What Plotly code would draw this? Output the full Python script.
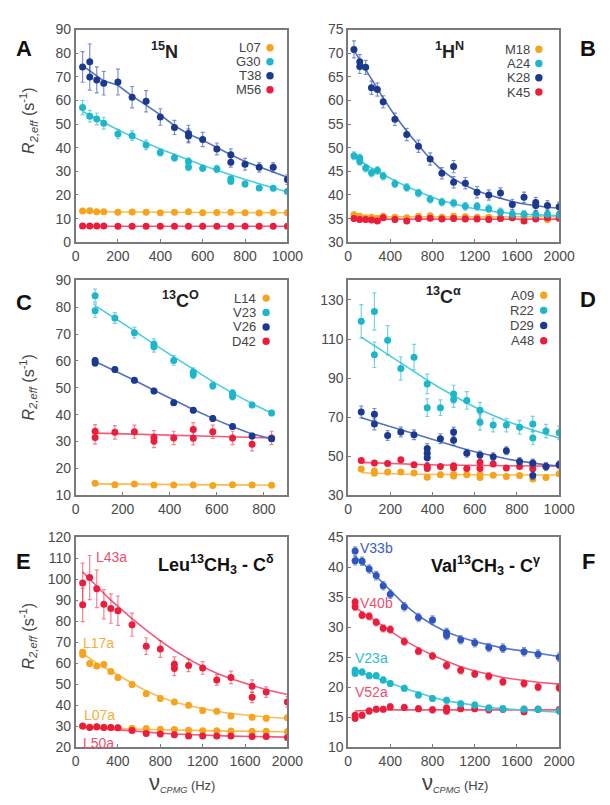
import plotly.graph_objects as go

W, H = 610, 805

ORANGE = "#F6A31E"
CYAN = "#1DB6CB"
BLUE = "#1B3A8F"
BLUE2 = "#2F56C0"
RED = "#EC1C3C"
LINE = {ORANGE: "#F8BC55", CYAN: "#4CCCDD", BLUE: "#5470BE", BLUE2: "#5878CC", RED: "#F25A78"}
ERR = {ORANGE: "rgba(246,163,30,0.6)", CYAN: "rgba(29,182,203,0.6)", BLUE: "rgba(40,70,170,0.6)",
       BLUE2: "rgba(47,86,192,0.6)", RED: "rgba(236,28,60,0.55)"}

# ---------------- Panel A (15N) ----------------
A_nu = [33, 67, 100, 133, 200, 267, 333, 400, 467, 533, 600, 667, 733, 800, 867, 933, 1000]
A_T38_x = [33, 67, 67, 100, 133, 200, 267, 333, 400, 467, 533, 533, 600, 667, 733, 733, 800, 867, 933, 1000]
A_T38_y = [74.2, 76.4, 69.9, 68.7, 67.3, 67.8, 61.4, 59.7, 53.0, 48.6, 46.0, 45.0, 43.5, 39.5, 37.0, 33.8, 33.0, 31.7, 31.7, 26.5]
A_T38_e = [6.5, 7.5, 5.5, 5.5, 5.0, 5.5, 4.5, 4.5, 3.5, 3.0, 3.5, 3.0, 3.0, 2.5, 2.5, 2.0, 2.5, 2.0, 2.0, 2.0]
A_T38_fit = [74.7, 72.5, 70.3, 68.3, 66.4, 61.8, 58.0, 53.9, 49.3, 45.8, 43.2, 40.0, 37.0, 34.2, 32.0, 30.0, 27.5]
A_G30_x = [33, 67, 100, 133, 200, 267, 333, 400, 467, 533, 533, 600, 667, 733, 733, 800, 867, 933, 1000]
A_G30_y = [57.0, 53.3, 52.2, 50.4, 45.8, 45.1, 41.2, 38.0, 35.8, 34.2, 31.8, 31.3, 31.0, 26.8, 25.8, 24.6, 23.0, 22.8, 21.5]
A_G30_e = [3.0, 2.5, 2.5, 2.5, 2.0, 2.0, 2.0, 1.5, 1.5, 1.5, 1.5, 1.2, 1.5, 1.2, 1.2, 1.2, 1.0, 1.0, 1.0]
A_G30_fit = [55.3, 53.7, 52.2, 50.6, 47.6, 44.7, 42.0, 39.5, 37.1, 34.8, 32.6, 30.5, 28.5, 26.6, 24.8, 23.0, 21.3]
A_L07_y = [13.2, 13.3, 12.9, 12.9, 12.7, 12.8, 12.7, 12.5, 12.7, 12.9, 12.5, 12.6, 12.7, 12.5, 12.4, 12.6, 12.5]
A_L07_fit = [13.0, 12.9, 12.9, 12.8, 12.8, 12.8, 12.7, 12.7, 12.7, 12.6, 12.6, 12.6, 12.6, 12.6, 12.5, 12.5, 12.5]
A_M56_y = [6.9, 6.9, 6.9, 6.9, 6.8, 6.8, 6.8, 6.8, 6.8, 6.8, 6.8, 6.8, 6.8, 6.8, 6.8, 6.8, 6.8]
A_M56_fit = [6.8] * 17

# ---------------- Panel B (1HN) ----------------
B_nu = [56, 111, 167, 222, 278, 333, 444, 556, 667, 778, 889, 1000, 1111, 1222, 1333, 1444, 1556, 1667, 1778, 1889, 2000]
B_K28_x = [56, 111, 111, 167, 222, 278, 333, 444, 556, 667, 778, 889, 1000, 1000, 1111, 1222, 1333, 1444, 1556, 1667, 1778, 1778, 1889, 2000]
B_K28_y = [70.8, 68.2, 67.2, 67.0, 62.7, 62.3, 59.7, 56.0, 52.8, 50.3, 47.6, 44.6, 46.0, 42.7, 42.5, 40.6, 40.0, 40.4, 38.0, 39.5, 38.4, 37.8, 37.8, 37.5]
B_K28_e = [1.8, 1.5, 1.5, 1.5, 1.4, 1.4, 1.3, 1.3, 1.3, 1.3, 1.3, 1.2, 1.3, 1.2, 1.2, 1.2, 1.1, 1.1, 1.1, 1.1, 1.1, 1.1, 1.0, 1.0]
B_K28_fit = [70.6, 68.6, 66.6, 64.6, 62.6, 60.5, 56.8, 53.5, 50.5, 47.6, 45.2, 43.4, 42.0, 40.9, 40.0, 39.3, 38.6, 38.1, 37.7, 37.4, 37.2]
B_A24_x = [56, 111, 111, 167, 222, 278, 333, 444, 556, 667, 778, 889, 1000, 1111, 1222, 1333, 1444, 1556, 1667, 1778, 1889, 2000]
B_A24_y = [48.3, 47.8, 47.1, 45.7, 44.7, 45.2, 44.0, 42.4, 41.6, 40.4, 39.1, 38.5, 38.3, 37.6, 37.6, 37.1, 36.4, 36.0, 35.9, 35.9, 36.0, 35.8]
B_A24_fit = [48.0, 47.2, 46.4, 45.7, 45.0, 44.3, 43.0, 41.8, 40.7, 39.7, 38.8, 38.1, 37.5, 37.0, 36.6, 36.3, 36.1, 35.9, 35.8, 35.7, 35.6]
B_M18_y = [35.8, 35.5, 35.2, 35.3, 35.1, 35.5, 35.3, 35.2, 35.5, 35.6, 35.3, 35.5, 35.4, 35.3, 35.3, 35.2, 35.4, 35.3, 35.4, 34.8, 35.3]
B_M18_fit = [35.4] * 21
B_K45_y = [35.0, 34.8, 34.8, 34.7, 34.5, 35.2, 34.8, 34.5, 35.0, 35.1, 34.9, 35.0, 34.9, 34.9, 34.8, 35.0, 35.2, 34.5, 34.9, 35.2, 35.1]
B_K45_fit = [34.9] * 21

# ---------------- Panel C (13CO) ----------------
C_nu = [83, 167, 250, 333, 417, 500, 583, 667, 750, 833]
C_V23_x = [83, 83, 167, 250, 333, 333, 417, 500, 500, 583, 667, 667, 750, 833]
C_V23_y = [84.3, 78.7, 76.0, 70.5, 66.2, 65.3, 60.2, 55.9, 54.9, 50.8, 48.0, 46.8, 43.6, 40.6]
C_V23_e = [2.5, 2.5, 2.0, 2.0, 2.0, 2.0, 1.8, 1.5, 1.5, 1.3, 1.3, 1.3, 1.0, 1.0]
C_V23_fit = [80.6, 76.0, 71.2, 66.3, 61.5, 56.8, 52.3, 48.0, 44.1, 40.6]
C_V26_x = [83, 83, 167, 250, 333, 417, 500, 583, 667, 750, 833]
C_V26_y = [60.2, 59.2, 56.8, 52.8, 48.8, 44.4, 41.6, 38.6, 35.6, 32.0, 31.0]
C_V26_fit = [59.8, 56.4, 52.8, 49.1, 45.4, 41.9, 38.6, 35.5, 32.8, 31.0]
C_D42_x = [83, 83, 167, 250, 333, 333, 417, 500, 500, 583, 667, 750, 833]
C_D42_y = [33.8, 31.5, 33.4, 33.6, 31.5, 30.2, 31.3, 34.5, 31.2, 33.6, 31.3, 29.0, 31.3]
C_D42_fit = [33.1, 32.9, 32.7, 32.5, 32.3, 32.1, 31.9, 31.7, 31.5, 31.3]
C_L14_y = [14.4, 13.9, 14.1, 13.8, 13.8, 13.8, 13.6, 13.9, 13.8, 13.7]
C_L14_fit = [14.2, 14.1, 14.0, 13.9, 13.9, 13.8, 13.8, 13.8, 13.7, 13.7]

# ---------------- Panel D (13C alpha) ----------------
D_nu = [62.5, 125, 187.5, 250, 312.5, 375, 437.5, 500, 562.5, 625, 687.5, 750, 812.5, 875, 937.5, 1000]
D_R22_x = [62.5, 125, 125, 187.5, 250, 312.5, 375, 375, 437.5, 500, 500, 562.5, 625, 625, 687.5, 750, 812.5, 875, 875, 937.5, 1000]
D_R22_y = [119.1, 124.1, 101.9, 109.4, 94.9, 100.7, 87.0, 74.8, 74.8, 81.8, 79.0, 78.5, 73.5, 67.3, 65.9, 65.9, 64.8, 66.4, 59.3, 62.8, 61.9]
D_R22_e = [8.5, 9.5, 6.5, 7.5, 6.0, 6.5, 5.0, 4.5, 4.0, 4.5, 4.0, 4.5, 4.0, 4.0, 3.5, 3.5, 3.5, 4.0, 3.5, 3.5, 3.5]
D_R22_fit = [111.0, 106.5, 102.0, 97.6, 93.2, 88.9, 84.8, 80.8, 77.2, 73.8, 70.7, 68.0, 65.5, 63.3, 61.2, 59.3]
D_D29_x = [62.5, 125, 125, 187.5, 250, 312.5, 375, 375, 375, 437.5, 500, 500, 562.5, 625, 687.5, 750, 812.5, 875, 875, 937.5, 1000]
D_D29_y = [72.6, 71.4, 66.4, 60.6, 62.3, 60.9, 53.9, 51.4, 49.2, 58.9, 62.3, 58.1, 51.4, 50.6, 49.7, 52.7, 47.2, 46.4, 40.0, 44.7, 45.6]
D_D29_e = [3.0, 3.0, 3.0, 2.5, 2.5, 2.5, 2.5, 2.5, 2.5, 2.5, 2.5, 2.5, 2.0, 2.0, 2.0, 2.0, 2.0, 2.0, 2.0, 2.0, 2.0]
D_D29_fit = [69.6, 67.6, 65.5, 63.4, 61.3, 59.2, 57.2, 55.2, 53.3, 51.6, 50.0, 48.6, 47.4, 46.3, 45.5, 44.9]
D_A48_x = [62.5, 125, 187.5, 250, 312.5, 375, 375, 437.5, 500, 500, 562.5, 625, 625, 687.5, 750, 812.5, 875, 875, 937.5, 1000]
D_A48_y = [47.7, 46.4, 46.2, 48.1, 45.6, 44.8, 43.6, 44.7, 45.0, 44.0, 43.6, 46.9, 43.6, 46.0, 43.9, 44.7, 46.0, 43.5, 44.7, 45.6]
D_A48_fit = [46.8, 46.5, 46.2, 46.0, 45.8, 45.6, 45.4, 45.3, 45.2, 45.1, 45.0, 45.0, 44.9, 44.9, 44.8, 44.8]
D_A09_x = [62.5, 125, 125, 187.5, 250, 312.5, 375, 437.5, 500, 500, 562.5, 625, 625, 687.5, 750, 812.5, 875, 937.5, 1000]
D_A09_y = [43.4, 42.4, 41.2, 41.8, 41.8, 41.3, 39.2, 40.5, 40.6, 39.8, 40.5, 40.5, 39.0, 40.2, 39.5, 40.0, 38.3, 39.0, 41.0]
D_A09_fit = [41.5, 41.2, 41.0, 40.8, 40.7, 40.6, 40.5, 40.5, 40.4, 40.4, 40.4, 40.3, 40.3, 40.3, 40.3, 40.3]

# ---------------- Panel E (Leu methyl) ----------------
E_nu = [67, 133, 200, 267, 333, 400, 533, 667, 800, 933, 1067, 1200, 1333, 1467, 1667, 1800, 2000]
E_L43a_x = [67, 67, 133, 200, 267, 333, 400, 533, 667, 800, 933, 933, 1067, 1200, 1333, 1467, 1667, 1667, 1800, 2000]
E_L43a_y = [98.2, 87.8, 100.8, 95.5, 88.1, 86.0, 85.0, 78.3, 68.1, 66.7, 59.5, 57.5, 58.9, 57.7, 52.0, 53.2, 49.0, 43.7, 46.2, 41.5]
E_L43a_e = [9.5, 8.0, 10.5, 9.0, 7.0, 7.0, 7.0, 5.5, 4.0, 4.0, 3.5, 3.5, 3.0, 3.0, 2.5, 3.0, 3.0, 2.5, 2.5, 2.5]
E_L43a_fit = [103.5, 100.0, 96.5, 93.2, 90.0, 87.0, 81.2, 75.7, 70.6, 66.0, 61.9, 58.3, 55.2, 52.5, 49.2, 47.3, 45.0]
E_L17a_x = [67, 67, 133, 200, 267, 333, 400, 533, 667, 800, 933, 1067, 1200, 1333, 1467, 1667, 1800, 2000]
E_L17a_y = [65.2, 64.1, 59.8, 58.6, 59.4, 56.0, 53.2, 49.8, 45.4, 43.1, 41.5, 39.9, 37.4, 37.1, 34.8, 34.2, 33.7, 34.0]
E_L17a_fit = [64.6, 62.2, 60.0, 58.0, 56.1, 54.3, 50.6, 46.7, 43.8, 41.5, 39.7, 38.2, 37.0, 36.0, 34.9, 34.3, 33.6]
E_L07a_y = [29.9, 29.5, 29.6, 29.4, 29.3, 29.2, 29.0, 28.8, 28.5, 28.3, 28.0, 27.8, 27.8, 27.6, 27.5, 27.5, 27.4]
E_L07a_fit = [29.6, 29.4, 29.3, 29.1, 29.0, 28.9, 28.6, 28.4, 28.2, 28.0, 27.9, 27.8, 27.7, 27.6, 27.5, 27.4, 27.3]
E_L50a_y = [30.0, 29.3, 29.7, 29.3, 29.3, 29.2, 27.9, 26.4, 26.2, 25.8, 25.3, 25.2, 25.2, 25.3, 25.0, 25.0, 24.5]
E_L50a_fit = [29.6, 29.3, 29.0, 28.7, 28.4, 28.1, 27.5, 27.0, 26.6, 26.2, 25.9, 25.6, 25.4, 25.2, 25.0, 24.9, 24.7]

# ---------------- Panel F (Val methyl) ----------------
F_V33b_x = [67, 67, 133, 200, 267, 333, 400, 533, 667, 800, 933, 933, 1067, 1200, 1333, 1467, 1667, 1800, 2000]
F_V33b_y = [42.7, 41.1, 41.0, 39.7, 38.6, 36.9, 35.5, 33.4, 31.6, 31.2, 29.1, 28.6, 27.9, 27.4, 26.6, 26.5, 25.9, 25.5, 25.0]
F_V33b_fit = [41.8, 40.8, 39.7, 38.5, 37.3, 36.1, 33.8, 31.9, 30.4, 29.2, 28.3, 27.6, 27.0, 26.5, 26.0, 25.6, 25.1]
F_V40b_x = [67, 67, 133, 200, 267, 333, 400, 533, 667, 800, 933, 1067, 1200, 1333, 1467, 1667, 1800, 2000]
F_V40b_y = [34.2, 33.4, 32.0, 31.8, 30.8, 29.8, 29.6, 27.6, 26.0, 25.2, 23.6, 22.8, 22.2, 21.8, 20.9, 20.6, 20.0, 19.9]
F_V40b_fit = [33.3, 32.5, 31.7, 30.9, 30.1, 29.3, 27.8, 26.5, 25.3, 24.3, 23.4, 22.7, 22.1, 21.6, 21.1, 20.8, 20.5]
F_V23a_x = [67, 67, 133, 200, 267, 333, 400, 533, 667, 800, 933, 1067, 1200, 1333, 1467, 1667, 1800, 2000]
F_V23a_y = [22.8, 22.3, 22.5, 21.9, 21.9, 21.2, 20.6, 19.8, 18.7, 18.1, 17.8, 17.2, 17.0, 16.5, 16.4, 16.3, 16.3, 16.0]
F_V23a_fit = [22.8, 22.4, 22.0, 21.6, 21.1, 20.7, 19.8, 19.0, 18.3, 17.7, 17.3, 16.9, 16.6, 16.4, 16.1, 16.0, 15.8]
F_V52a_x = [67, 67, 133, 200, 267, 333, 400, 533, 667, 800, 933, 933, 1067, 1200, 1333, 1467, 1667, 1667, 1800, 2000]
F_V52a_y = [15.3, 14.8, 15.3, 16.0, 16.3, 16.3, 16.7, 16.6, 16.4, 16.2, 16.5, 16.0, 16.4, 16.4, 16.2, 16.3, 16.3, 15.9, 16.3, 16.2]
F_V52a_fit = [16.0, 16.1, 16.2, 16.2, 16.2, 16.2, 16.2, 16.2, 16.2, 16.2, 16.2, 16.2, 16.2, 16.2, 16.2, 16.2, 16.2]

fig = go.Figure()


def px(x, y):
    return x / W, 1 - y / H


AX = {"A": ("x", "y"), "B": ("x2", "y2"), "C": ("x3", "y3"),
      "D": ("x4", "y4"), "E": ("x5", "y5"), "F": ("x6", "y6")}


def series(panel, fit_x, fit_y, pt_x, pt_y, err, color):
    xa, ya = AX[panel]
    fig.add_trace(go.Scatter(x=fit_x, y=fit_y, mode="lines", xaxis=xa, yaxis=ya,
                             line=dict(color=LINE[color], width=1.6), hoverinfo="skip",
                             showlegend=False))
    if not isinstance(err, list):
        err = [err] * len(pt_x)
    fig.add_trace(go.Scatter(x=pt_x, y=pt_y, mode="markers", xaxis=xa, yaxis=ya,
                             marker=dict(color=color, size=7, line=dict(width=0)),
                             error_y=dict(type="data", array=err, visible=True, color=ERR[color],
                                          thickness=1.2, width=2),
                             showlegend=False))


series("A", A_nu, A_L07_fit, A_nu, A_L07_y, 0.5, ORANGE)
series("A", A_nu, A_M56_fit, A_nu, A_M56_y, 0.4, RED)
series("A", A_nu, A_G30_fit, A_G30_x, A_G30_y, A_G30_e, CYAN)
series("A", A_nu, A_T38_fit, A_T38_x, A_T38_y, A_T38_e, BLUE)
series("B", B_nu, B_M18_fit, B_nu, B_M18_y, 0.5, ORANGE)
series("B", B_nu, B_K45_fit, B_nu, B_K45_y, 0.5, RED)
series("B", B_nu, B_A24_fit, B_A24_x, B_A24_y, 0.8, CYAN)
series("B", B_nu, B_K28_fit, B_K28_x, B_K28_y, B_K28_e, BLUE)
series("C", C_nu, C_L14_fit, C_nu, C_L14_y, 0.5, ORANGE)
series("C", C_nu, C_D42_fit, C_D42_x, C_D42_y, 2.5, RED)
series("C", C_nu, C_V26_fit, C_V26_x, C_V26_y, 1.0, BLUE)
series("C", C_nu, C_V23_fit, C_V23_x, C_V23_y, C_V23_e, CYAN)
series("D", D_nu, D_A09_fit, D_A09_x, D_A09_y, 1.0, ORANGE)
series("D", D_nu, D_A48_fit, D_A48_x, D_A48_y, 1.0, RED)
series("D", D_nu, D_D29_fit, D_D29_x, D_D29_y, D_D29_e, BLUE)
series("D", D_nu, D_R22_fit, D_R22_x, D_R22_y, D_R22_e, CYAN)
series("E", E_nu, E_L07a_fit, E_nu, E_L07a_y, 0.6, ORANGE)
series("E", E_nu, E_L50a_fit, E_nu, E_L50a_y, 0.6, RED)
series("E", E_nu, E_L17a_fit, E_L17a_x, E_L17a_y, 1.2, ORANGE)
series("E", E_nu, E_L43a_fit, E_L43a_x, E_L43a_y, E_L43a_e, RED)
series("F", E_nu, F_V52a_fit, F_V52a_x, F_V52a_y, 0.5, RED)
series("F", E_nu, F_V23a_fit, F_V23a_x, F_V23a_y, 0.5, CYAN)
series("F", E_nu, F_V40b_fit, F_V40b_x, F_V40b_y, 0.6, RED)
series("F", E_nu, F_V33b_fit, F_V33b_x, F_V33b_y, 0.7, BLUE2)

FONT = "Liberation Sans, Arial, sans-serif"
TICKC = "#4a4a4a"
FRAME = "#7a7a7a"

left_x = (74 / W, 293 / W)
right_x = (355.7 / W, 574 / W)
rows_y = [(1 - 239 / H, 1 - 22 / H), (1 - 497 / H, 1 - 278 / H), (1 - 754 / H, 1 - 540 / H)]

axis_common = dict(showline=True, mirror=True, linecolor=FRAME, linewidth=1.5, ticks="inside",
                   ticklen=3, tickcolor=FRAME, showgrid=False, zeroline=False,
                   tickfont=dict(family=FONT, size=14, color=TICKC))

panels = [
    ("", left_x, rows_y[0], [0, 1000], list(range(0, 1001, 200)), [0, 90], list(range(0, 91, 10))),
    ("2", right_x, rows_y[0], [0, 2000], list(range(0, 2001, 400)), [30, 75], list(range(30, 76, 5))),
    ("3", left_x, rows_y[1], [0, 900], list(range(0, 801, 200)), [10, 90], list(range(10, 91, 10))),
    ("4", right_x, rows_y[1], [0, 1000], list(range(0, 1001, 200)), [30, 140], list(range(30, 131, 20))),
    ("5", left_x, rows_y[2], [0, 2000], list(range(0, 2001, 400)), [20, 120], list(range(20, 121, 10))),
    ("6", right_x, rows_y[2], [0, 2000], list(range(0, 2001, 400)), [10, 45], list(range(10, 46, 5))),
]
lay = {}
for sfx, xd, yd, xr, xt, yr, yt in panels:
    lay["xaxis" + sfx] = dict(axis_common, domain=list(xd), range=xr, tickvals=xt, anchor="y" + sfx)
    lay["yaxis" + sfx] = dict(axis_common, domain=list(yd), range=yr, tickvals=yt, anchor="x" + sfx)

annotations = []
shapes = []


def text(x, y, s, size=14, color="#333", bold=False, xanchor="center", angle=0):
    xp, yp = px(x, y)
    annotations.append(dict(x=xp, y=yp, xref="paper", yref="paper",
                            text=("<b>%s</b>" % s) if bold else s,
                            showarrow=False, xanchor=xanchor, yanchor="middle", textangle=angle,
                            borderpad=0, font=dict(family=FONT, size=size, color=color)))


for L, x, y in [("A", 11, 41), ("B", 595, 41), ("C", 11, 300), ("D", 595, 297), ("E", 11, 565), ("F", 597, 565)]:
    text(x, y, L, size=22, color="#111", bold=True, xanchor="left")

text(166, 43, "<sup>15</sup>N", size=18, color="#222", bold=True)
text(461, 43, "<sup>1</sup>H<sup>N</sup>", size=18, color="#222", bold=True)
text(182, 297, "<sup>13</sup>C<sup>O</sup>", size=18, color="#222", bold=True)
text(454, 293, "<sup>13</sup>C<sup>α</sup>", size=18, color="#222", bold=True)
text(219, 568, "Leu<sup>13</sup>CH<sub>3</sub> - C<sup>δ</sup>", size=18, color="#111", bold=True)
text(498, 569, "Val<sup>13</sup>CH<sub>3</sub> - C<sup>γ</sup>", size=18, color="#111", bold=True)


def legend(names, colors, xr, xdot, y0, dy):
    for i, (n, c) in enumerate(zip(names, colors)):
        y = y0 + i * dy
        text(xr, y, n, size=13, color="#444", xanchor="right")
        a, b = px(xdot - 3.8, y - 3.8)
        c2, d = px(xdot + 3.8, y + 3.8)
        shapes.append(dict(type="circle", xref="paper", yref="paper", x0=a, x1=c2, y0=d, y1=b,
                           fillcolor=c, line=dict(width=0)))


legend(["L07", "G30", "T38", "M56"], [ORANGE, CYAN, BLUE, RED], 267, 275, 40.5, 14.3)
legend(["M18", "A24", "K28", "K45"], [ORANGE, CYAN, BLUE, RED], 545, 553, 42, 14.6)
legend(["L14", "V23", "V26", "D42"], [ORANGE, CYAN, BLUE, RED], 262, 271, 296, 14.7)
legend(["A09", "R22", "D29", "A48"], [ORANGE, CYAN, BLUE, RED], 549, 558, 293, 15.5)

text(94, 560, "L43a", size=14, color="#F0506E", xanchor="left")
text(81, 648, "L17a", size=14, color="#F7AE3A", xanchor="left")
text(82, 721, "L07a", size=14, color="#F7AE3A", xanchor="left")
text(81, 750, "L50a", size=14, color="#F0506E", xanchor="left")
text(367, 551, "V33b", size=14, color="#3A5CC4", xanchor="left")
text(367, 607, "V40b", size=14, color="#F0506E", xanchor="left")
text(362, 663, "V23a", size=14, color="#2FBCD0", xanchor="left")
text(362, 698, "V52a", size=14, color="#F0506E", xanchor="left")

ytitle = "<i>R</i><sub><i>2,eff</i></sub> (s<sup>-1</sup>)"
for yc in [115, 387, 641]:
    text(25, yc, ytitle, size=16, color="#444", angle=-90)

xtitle = "<span style='font-size:22px'>ν</span><sub><i>CPMG</i></sub> (Hz)"
text(184, 790, xtitle, size=13, color="#444")
text(466, 790, xtitle, size=13, color="#444")

fig.update_layout(width=W, height=H, margin=dict(l=0, r=0, t=0, b=0), paper_bgcolor="white",
                  plot_bgcolor="white", showlegend=False, annotations=annotations, shapes=shapes,
                  font=dict(family=FONT), **lay)

fig.write_html("out.html", config={"displayModeBar": False},
               post_script="document.body.style.margin='0';document.body.style.padding='0';"
                           "document.documentElement.style.overflow='hidden';")
